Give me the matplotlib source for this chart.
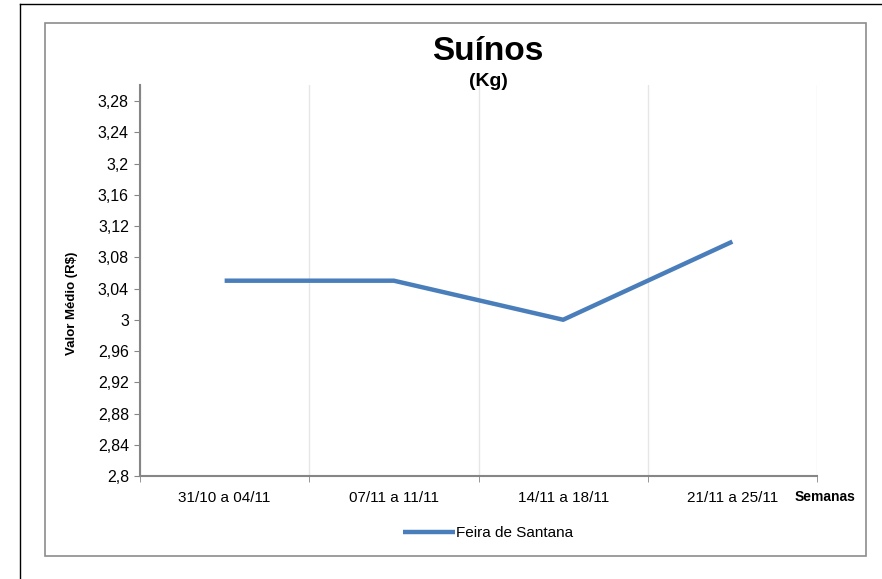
import matplotlib.pyplot as plt
from matplotlib.patches import Rectangle
from matplotlib.lines import Line2D
from matplotlib.ticker import FixedLocator, FuncFormatter

semanas = ["31/10 a 04/11", "07/11 a 11/11", "14/11 a 18/11", "21/11 a 25/11"]
feira_de_santana = [3.05, 3.05, 3.00, 3.10]
yticks = [2.8, 2.84, 2.88, 2.92, 2.96, 3.0, 3.04, 3.08, 3.12, 3.16, 3.2, 3.24, 3.28]

W, H = 882, 579
fig = plt.figure(figsize=(W / 100, H / 100), dpi=100)
plt.rcParams["font.family"] = ["Liberation Sans", "DejaVu Sans"]

# frame lines (pixel coordinates -> figure fraction)
def fx(x):
    return x / W

def fy(y):
    return 1 - y / H

fig.add_artist(Line2D([fx(20), fx(20)], [fy(4), fy(579)], color="black", lw=1))
fig.add_artist(Line2D([fx(20), fx(882)], [fy(4), fy(4)], color="black", lw=1))
fig.add_artist(Rectangle((fx(45), fy(556)), fx(866) - fx(45), fy(23) - fy(556),
                         fill=False, edgecolor="#8c8c8c", lw=1.2))

ax = fig.add_axes([fx(140), fy(476), fx(817) - fx(140), fy(85) - fy(476)])
x = list(range(len(semanas)))
ax.plot(x, feira_de_santana, color="#4a7ebb", lw=3.2, solid_capstyle="butt",
        label="Feira de Santana")

ax.set_xlim(-0.5, len(semanas) - 0.5)
ax.set_ylim(2.8, 3.3005)
ax.set_yticks(yticks)
ax.yaxis.set_major_formatter(FuncFormatter(lambda v, p: ("%g" % round(v, 2)).replace(".", ",")))
ax.set_xticks(x)
ax.set_xticklabels(semanas)
ax.xaxis.set_minor_locator(FixedLocator([i - 0.5 for i in range(len(semanas) + 1)]))
ax.grid(True, which="minor", axis="x", color="#e6e6e6", lw=1)
ax.tick_params(axis="x", which="major", length=0, pad=11, labelsize=11)
ax.tick_params(axis="x", which="minor", length=4, color="#868686")
ax.tick_params(axis="y", length=4, color="#868686", labelsize=11.5, pad=4)

for s in ["top", "right"]:
    ax.spines[s].set_visible(False)
for s in ["left", "bottom"]:
    ax.spines[s].set_color("#868686")
    ax.spines[s].set_linewidth(1.5)

fig.text(fx(488), fy(52), "Suínos", ha="center", va="center", fontsize=24, fontweight="bold")
fig.text(fx(488), fy(82), "(Kg)", ha="center", va="center", fontsize=14, fontweight="bold")
fig.text(fx(72), fy(303), "Valor Médio (R$)", ha="center", va="center", rotation=90,
         fontsize=9.5, fontweight="bold")
fig.text(fx(825), fy(497), "Semanas", ha="center", va="center", fontsize=10, fontweight="bold")

fig.legend(loc="center", bbox_to_anchor=(fx(488), fy(533)), frameon=False,
           fontsize=11, handlelength=3.4, handletextpad=0.1)

fig.savefig("out.png", dpi=100)
